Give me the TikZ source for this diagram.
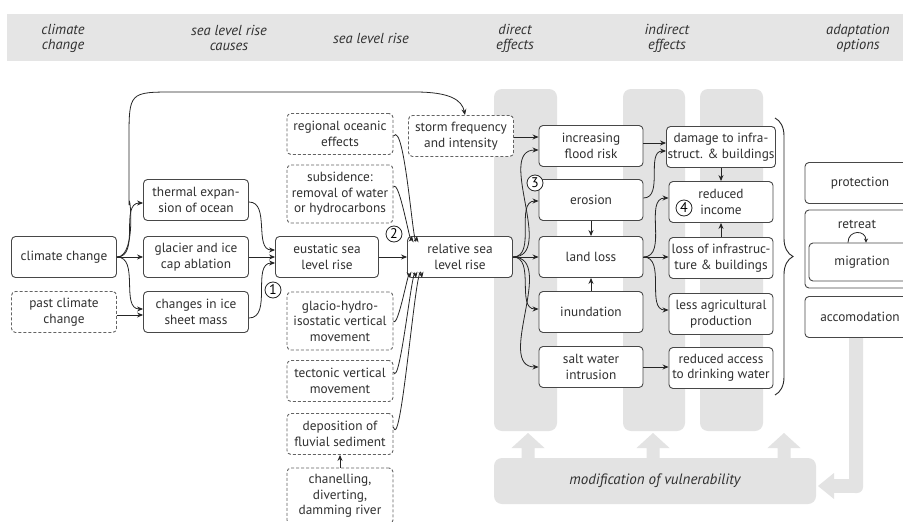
\documentclass[tikz,border=0pt]{standalone}
\usepackage{fontspec}
\setmainfont{PT Sans}
\usetikzlibrary{arrows.meta,calc,decorations.pathreplacing}
\definecolor{band}{HTML}{E5E5E5}
\definecolor{lane}{HTML}{E3E3E3}
\definecolor{edge}{HTML}{474747}
\definecolor{ink}{HTML}{303030}
\newcommand{\bodyfont}{\fontsize{13.3}{15.5}\selectfont}
\newcommand{\headfont}{\fontsize{14.5}{15}\selectfont\itshape}
\newcommand{\vulfont}{\fontsize{15}{16}\selectfont\itshape}

\tikzset{
  box/.style={draw=edge, line width=0.9pt, rounded corners=4pt, fill=white,
    minimum width=105pt, minimum height=41pt, inner sep=1pt, align=center,
    text=ink, font=\bodyfont},
  dbox/.style={box, draw=edge!85, dash pattern=on 3pt off 2pt},
  arr/.style={-{Stealth[length=6pt,width=5pt]}, line width=0.8pt, draw=black!85},
  num/.style={circle, draw=black!85, line width=0.8pt, fill=white,
    minimum size=16pt, inner sep=0pt, text=black, font=\fontsize{14}{14}\selectfont},
  head/.style={text=ink, font=\headfont, align=center},
}

\begin{document}
\begin{tikzpicture}[x=1pt,y=-1pt]
\useasboundingbox (0,0) rectangle (903,522);
\clip (0,0) rectangle (903,522);
\fill[white] (0,0) rectangle (903,522);

% ---- header band ----
\fill[band] (7,14) rectangle (903,61);
\node[head] (h1) at (63,38) {climate\\change};
\node[head] (h2) at (229,38) {sea level rise\\causes};
\node[head] (h3) at (371,38) {sea level rise};
\node[head] (h4) at (515,38) {direct\\effects};
\node[head] (h5) at (667,38) {indirect\\effects};
\node[head] (h6) at (858,38) {adaptation\\options};

% ---- grey lanes behind the effect boxes ----
\fill[lane, rounded corners=8pt] (494,89) rectangle (557,431);
\fill[lane, rounded corners=8pt] (623,89) rectangle (685,431);
\fill[lane, rounded corners=8pt] (700,89) rectangle (763,431);
\foreach \cx in {528,653,784}
  \fill[lane] (\cx-6.5,462) -- (\cx-6.5,448) -- (\cx-16.5,448) -- (\cx,433)
     -- (\cx+16.5,448) -- (\cx+6.5,448) -- (\cx+6.5,462) -- cycle;
\node[fill=lane, rounded corners=8pt, minimum width=322pt, minimum height=46pt,
      inner sep=0pt, text=ink, font=\vulfont] (vul) at (655,481)
      {modification of vulnerability};
% feedback arrow from the adaptation column
\fill[lane, rounded corners=6pt] (849,320) rectangle (863,493);
\fill[lane] (834,479) rectangle (856,493);
\fill[lane] (834,473) -- (818,486) -- (834,499) -- cycle;

% ---- causes ----
\node[box]  (cc) at (64,257) {climate change};
\node[dbox] (pc) at (64,312) {past climate\\change};
\node[box]  (th) at (196,200) {thermal expan-\\sion of ocean};
\node[box]  (gl) at (196,257) {glacier and ice\\cap ablation};
\node[box]  (ci) at (196,312) {changes in ice\\sheet mass};

% ---- sea level rise ----
\node[box, minimum width=103pt] (eu) at (327,257) {eustatic sea\\level rise};
\node[box] (rel) at (460,257) {relative sea\\level rise};
\node[dbox, minimum width=106pt] (reg) at (340,134) {regional oceanic\\effects};
\node[dbox, minimum width=106pt, minimum height=58pt] (sub) at (340,194)
   {subsidence:\\removal of water\\or hydrocarbons};
\node[dbox, minimum width=106pt, minimum height=58pt] (gla) at (340,321)
   {glacio-hydro-\\isostatic vertical\\movement};
\node[dbox, minimum width=106pt] (tec) at (340,381) {tectonic vertical\\movement};
\node[dbox, minimum width=106pt] (dep) at (340,434) {deposition of\\fluvial sediment};
\node[dbox, minimum width=106pt, minimum height=56pt] (chn) at (340,496)
   {chanelling,\\diverting,\\damming river};
\node[dbox] (st) at (461,136) {storm frequency\\and intensity};

% ---- direct effects ----
\node[box, minimum width=104pt] (fl) at (591,146) {increasing\\flood risk};
\node[box, minimum width=104pt] (er) at (591,200) {erosion};
\node[box, minimum width=104pt] (ll) at (591,257) {land loss};
\node[box, minimum width=104pt] (in) at (591,312) {inundation};
\node[box, minimum width=104pt] (sw) at (591,367) {salt water\\intrusion};

% ---- indirect effects ----
\node[box, minimum width=104pt] (dm) at (721,147) {damage to infra-\\struct. \& buildings};
\node[box, minimum width=104pt] (ri) at (721,202) {reduced\\income};
\node[box, minimum width=104pt] (li) at (721,258) {loss of infrastruc-\\ture \& buildings};
\node[box, minimum width=104pt] (la) at (721,314) {less agricultural\\production};
\node[box, minimum width=104pt] (ra) at (721,368) {reduced access\\to drinking water};

% ---- adaptation options ----
\node[box, minimum width=110pt] (pro) at (860,183) {protection};
\node[box, minimum width=110pt, minimum height=78pt] (ret) at (860,249) {};
\node[text=ink, font=\bodyfont] (rett) at (857,224) {retreat};
\node[box, minimum width=106pt, minimum height=38pt] (mig) at (862,262) {migration};
\node[box, minimum width=110pt] (acc) at (860,317) {accomodation};

% ---- connectors: causes ----
\draw[arr] (cc.east) to[out=0,in=90] (129,205) -- (129,140)
   .. controls (129,92) .. (175,92) -- (415,92)
   .. controls (450,92) and (462,100) .. ($(st.north)+(4,0)$);
\draw[arr] (cc.east) to[out=0,in=180] ($(th.west)+(0,3)$);
\draw[arr] (cc.east) -- (gl.west);
\draw[arr] (cc.east) to[out=0,in=180] ($(ci.west)+(0,-3)$);
\draw[arr] ($(pc.east)+(0,3)$) -- ($(ci.west)+(0,3)$);
\draw[arr] ($(th.east)+(0,2)$) to[out=0,in=180] ($(eu.west)+(0,-7)$);
\draw[arr] (gl.east) -- (eu.west);
\draw[arr] ($(ci.east)+(0,6)$) to[out=0,in=180] ($(eu.west)+(0,6)$);
\draw[arr] (eu.east) -- (rel.west);
\draw[arr] ($(reg.east)+(0,2)$) to[out=55,in=-100,looseness=0.5] ($(rel.north west)+(10,0)$);
\draw[arr] ($(sub.east)+(0,-7)$) to[out=55,in=-100,looseness=0.5] ($(rel.north west)+(5,0)$);
\draw[arr] (gla.east) to[out=-60,in=100,looseness=0.5] ($(rel.south west)+(3,0)$);
\draw[arr] ($(tec.east)+(0,-9)$) to[out=-70,in=100,looseness=0.5] ($(rel.south west)+(9,0)$);
\draw[arr] ($(dep.east)+(0,-7)$) to[out=-75,in=100,looseness=0.5] ($(rel.south west)+(15,0)$);
\draw[arr] (chn.north) -- (dep.south);

% ---- connectors: direct effects ----
\draw[arr] ($(st.east)+(0,1)$) -- ($(fl.west)+(0,-9)$);
\draw[arr] (rel.east) to[out=0,in=180] ($(fl.west)+(0,4)$);
\draw[arr] (rel.east) to[out=0,in=180] ($(er.west)+(0,1)$);
\draw[arr] (rel.east) -- (ll.west);
\draw[arr] (rel.east) to[out=0,in=180] ($(in.west)+(0,-3)$);
\draw[arr] (rel.east) to[out=0,in=180] (sw.west);
\draw[arr] (er.south) -- (ll.north);
\draw[arr] (in.north) -- (ll.south);

% ---- connectors: indirect effects ----
\draw[arr] ($(fl.east)+(0,-3)$) -- ($(dm.west)+(0,-4)$);
\draw[arr] ($(er.east)+(0,-2)$) to[out=0,in=180] ($(dm.west)+(0,4)$);
\draw[arr] (ll.east) to[out=0,in=180] ($(ri.west)+(0,-4)$);
\draw[arr] (ll.east) -- (ll.east -| li.west);
\draw[arr] (ll.east) to[out=0,in=180] ($(la.west)+(0,-4)$);
\draw[arr] (sw.east) -- (sw.east -| ra.west);
\draw[arr] (dm.south) -- (ri.north);
\draw[arr] (li.north) -- (ri.south);

% ---- brace over the indirect effects and the retreat loop ----
\draw[line width=0.9pt, draw=black!85, decorate,
      decoration={brace, amplitude=18pt, aspect=0.5}] (775,118) -- (775,395);
\draw[arr, -{Stealth[length=4pt,width=4pt]}] ($(mig.north)+(-14,0)$)
   .. controls +(0,-13) and +(0,-13) .. ($(mig.north)+(4,0)$);

% ---- numbered markers ----
\node[num] (n1) at (273,290) {1};
\node[num] (n2) at (394,234) {2};
\node[num] (n3) at (535,183) {3};
\node[num] (n4) at (684,208) {4};
\end{tikzpicture}
\end{document}
